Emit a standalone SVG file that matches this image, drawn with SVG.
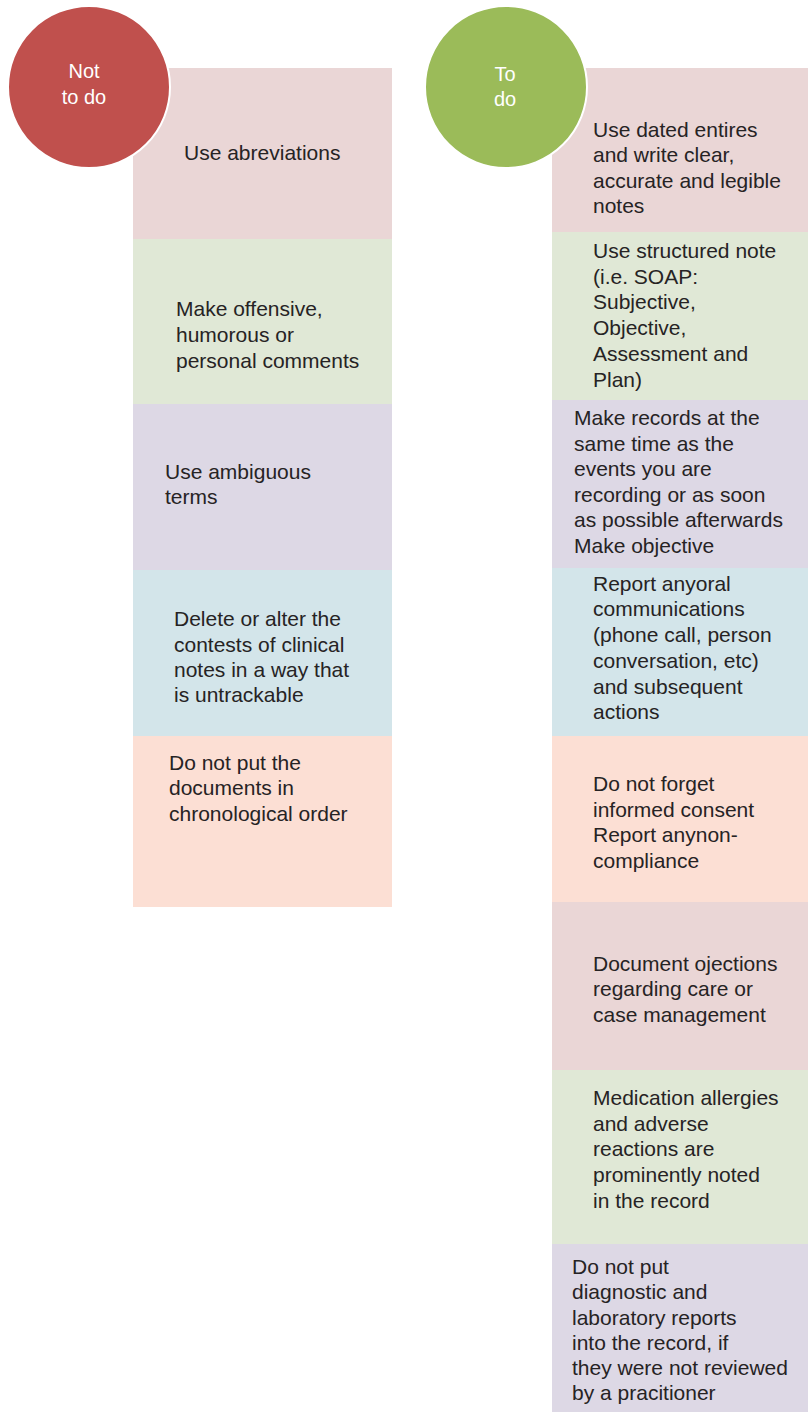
<svg xmlns="http://www.w3.org/2000/svg" width="808" height="1412" viewBox="0 0 808 1412">
<style>
.t{font-family:"Liberation Sans",Arial,sans-serif;font-size:21px;fill:#262324}
.c{font-family:"Liberation Sans",Arial,sans-serif;font-size:20px;fill:#ffffff;text-anchor:middle}
.pk{fill:#ead6d6}.gr{fill:#e0e8d6}.pu{fill:#ddd8e5}.bl{fill:#d3e5ea}.pe{fill:#fcdfd4}
</style>
<rect width="808" height="1412" fill="#ffffff"/>
<g id="not-list">
<g id="n1"><rect class="pk" x="133" y="68" width="259" height="171"/><text class="t" x="184" y="160">Use abreviations</text></g>
<g id="n2"><rect class="gr" x="133" y="239" width="259" height="165"/><text class="t" x="176" y="316">Make offensive,</text><text class="t" x="176" y="342">humorous or</text><text class="t" x="176" y="368">personal comments</text></g>
<g id="n3"><rect class="pu" x="133" y="404" width="259" height="166"/><text class="t" x="165" y="479">Use ambiguous</text><text class="t" x="165" y="504">terms</text></g>
<g id="n4"><rect class="bl" x="133" y="570" width="259" height="166"/><text class="t" x="174" y="626">Delete or alter the</text><text class="t" x="174" y="652">contests of clinical</text><text class="t" x="174" y="677">notes in a way that</text><text class="t" x="174" y="702">is untrackable</text></g>
<g id="n5"><rect class="pe" x="133" y="736" width="259" height="171"/><text class="t" x="169" y="770">Do not put the</text><text class="t" x="169" y="795">documents in</text><text class="t" x="169" y="821">chronological order</text></g>
</g>
<g id="do-list">
<g id="d1"><rect class="pk" x="552" y="68" width="256" height="164"/><text class="t" x="593" y="137">Use dated entires</text><text class="t" x="593" y="162">and write clear,</text><text class="t" x="593" y="188">accurate and legible</text><text class="t" x="593" y="213">notes</text></g>
<g id="d2"><rect class="gr" x="552" y="232" width="256" height="168"/><text class="t" x="593" y="258">Use structured note</text><text class="t" x="593" y="284">(i.e. SOAP:</text><text class="t" x="593" y="309">Subjective,</text><text class="t" x="593" y="335">Objective,</text><text class="t" x="593" y="361">Assessment and</text><text class="t" x="593" y="387">Plan)</text></g>
<g id="d3"><rect class="pu" x="552" y="400" width="256" height="168"/><text class="t" x="574" y="425">Make records at the</text><text class="t" x="574" y="451">same time as the</text><text class="t" x="574" y="476">events you are</text><text class="t" x="574" y="502">recording or as soon</text><text class="t" x="574" y="527">as possible afterwards</text><text class="t" x="574" y="553">Make objective</text></g>
<g id="d4"><rect class="bl" x="552" y="568" width="256" height="168"/><text class="t" x="593" y="591">Report anyoral</text><text class="t" x="593" y="616">communications</text><text class="t" x="593" y="642">(phone call, person</text><text class="t" x="593" y="668">conversation, etc)</text><text class="t" x="593" y="694">and subsequent</text><text class="t" x="593" y="719">actions</text></g>
<g id="d5"><rect class="pe" x="552" y="736" width="256" height="166"/><text class="t" x="593" y="791">Do not forget</text><text class="t" x="593" y="817">informed consent</text><text class="t" x="593" y="842">Report anynon-</text><text class="t" x="593" y="868">compliance</text></g>
<g id="d6"><rect class="pk" x="552" y="902" width="256" height="168"/><text class="t" x="593" y="971">Document ojections</text><text class="t" x="593" y="996">regarding care or</text><text class="t" x="593" y="1022">case management</text></g>
<g id="d7"><rect class="gr" x="552" y="1070" width="256" height="174"/><text class="t" x="593" y="1105">Medication allergies</text><text class="t" x="593" y="1131">and adverse</text><text class="t" x="593" y="1156">reactions are</text><text class="t" x="593" y="1182">prominently noted</text><text class="t" x="593" y="1208">in the record</text></g>
<g id="d8"><rect class="pu" x="552" y="1244" width="256" height="168"/><text class="t" x="572" y="1274">Do not put</text><text class="t" x="572" y="1299">diagnostic and</text><text class="t" x="572" y="1325">laboratory reports</text><text class="t" x="572" y="1350">into the record, if</text><text class="t" x="572" y="1375">they were not reviewed</text><text class="t" x="572" y="1400">by a pracitioner</text></g>
</g>
<g id="not-circle"><circle cx="89" cy="87" r="81" fill="#c0504d" stroke="#ffffff" stroke-width="2"/><text class="c" x="84" y="78">Not</text><text class="c" x="84" y="104">to do</text></g>
<g id="do-circle"><circle cx="506" cy="87" r="81" fill="#9bbb59" stroke="#ffffff" stroke-width="2"/><text class="c" x="505" y="81">To</text><text class="c" x="505" y="106">do</text></g>
</svg>
